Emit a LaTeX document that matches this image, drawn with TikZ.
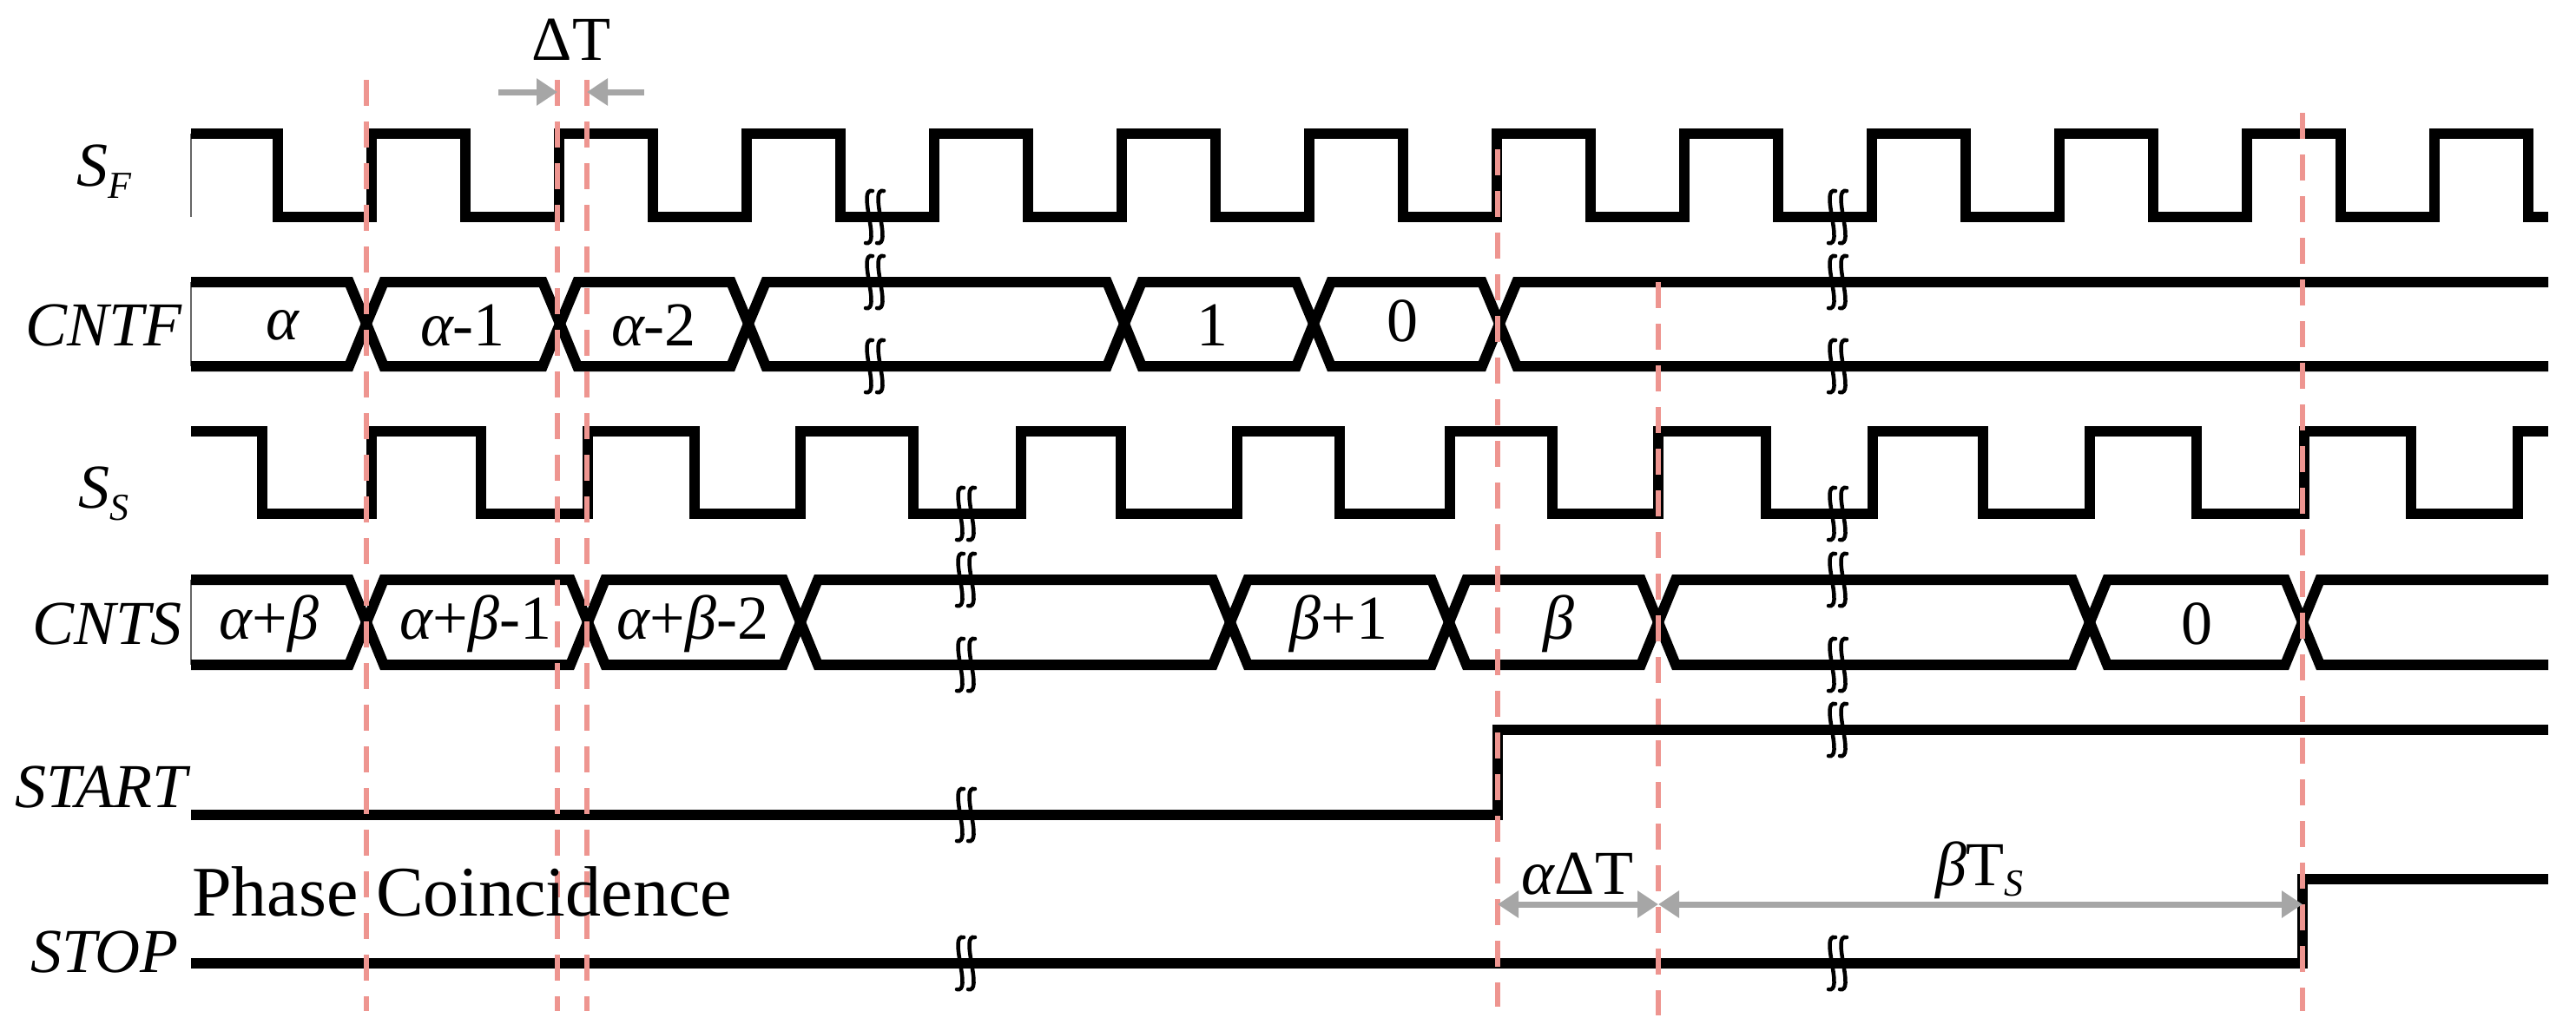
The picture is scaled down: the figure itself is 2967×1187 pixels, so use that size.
\documentclass[tikz,border=0pt]{standalone}
\usepackage{fontspec}
\setmainfont{Liberation Serif}
\usetikzlibrary{arrows.meta}
\definecolor{dashred}{HTML}{EE9590}
\definecolor{arrgray}{HTML}{A6A6A6}
\newcommand{\bigf}{\fontsize{72}{80}\selectfont}
\newcommand{\subf}{\fontsize{44}{48}\selectfont}
\begin{document}
\begin{tikzpicture}[x=1pt,y=-1pt,
  wave/.style={line width=12pt,line join=miter},
  thinedge/.style={line width=1.5pt,black!60},
  guide/.style={dashred,line width=6pt,dash pattern=on 30pt off 18pt},
  meas/.style={arrgray,line width=7pt,-{Triangle[length=24pt,width=30pt]}},
  dmeas/.style={arrgray,line width=7pt,{Triangle[length=24pt,width=30pt]}-{Triangle[length=24pt,width=30pt]}},
  lbl/.style={font=\bigf\itshape,inner sep=0pt},
  val/.style={font=\bigf,inner sep=0pt},
  brk/.pic={\draw[line width=4.5pt,line cap=round] (1,-30) .. controls (-8,-32) and (-6,-18) .. (-3,0) .. controls (0,18) and (2,32) .. (-7,30);
            \draw[line width=4.5pt,line cap=round] (14,-30) .. controls (5,-32) and (7,-18) .. (10,0) .. controls (13,18) and (15,32) .. (6,30);}]
\useasboundingbox (0,0) rectangle (2967,1187);
% ---- S_F
\draw[thinedge] (220,154) -- (220,250);
\draw[wave] (220,154) \foreach \k in {0,...,11}{ -- ({320+216*\k},154) -- ({320+216*\k},250) -- ({428+216*\k},250) -- ({428+216*\k},154)} -- (2912,154) -- (2912,250) -- (2935,250);
% ---- CNTF bus
\draw[thinedge] (220,325) -- (220,422);
\draw[wave] (220,325) -- (402,325) -- (422,373) -- (402,422) -- (220,422);
\foreach \a/\b in {422/645,645/862,862/1295,1295/1513,1513/1727}
  \draw[wave] (\a,373) -- ({\a+20},325) -- ({\b-20},325) -- (\b,373) -- ({\b-20},422) -- ({\a+20},422) -- cycle;
\draw[wave] (2935,325) -- (1747,325) -- (1727,373) -- (1747,422) -- (2935,422);
% ---- S_S
\draw[wave] (220,497) -- (302,497) -- (302,592) -- (428,592) -- (428,497) -- (554,497)--(554,592)--(677,592)--(677,497)--(800,497)--(800,592)--(922,592)--(922,497)--(1052,497)--(1052,592)--(1176,592)--(1176,497)--(1291,497)--(1291,592)--(1425,592)--(1425,497)--(1543,497)--(1543,592)--(1670,592)--(1670,497)--(1788,497)--(1788,592)--(1910,592)--(1910,497)--(2034,497)--(2034,592)--(2157,592)--(2157,497)--(2284,497)--(2284,592)--(2407,592)--(2407,497)--(2530,497)--(2530,592)--(2654,592)--(2654,497)--(2777,497)--(2777,592)--(2900,592)--(2900,497)--(2935,497);
% ---- CNTS bus
\draw[thinedge] (220,668) -- (220,766);
\draw[wave] (220,668) -- (402,668) -- (422,717) -- (402,766) -- (220,766);
\foreach \a/\b in {422/677,677/922,922/1417,1417/1669,1669/1910,1910/2407,2407/2652}
  \draw[wave] (\a,717) -- ({\a+20},668) -- ({\b-20},668) -- (\b,717) -- ({\b-20},766) -- ({\a+20},766) -- cycle;
\draw[wave] (2935,668) -- (2672,668) -- (2652,717) -- (2672,766) -- (2935,766);
% ---- START / STOP
\draw[wave] (220,939) -- (1725,939) -- (1725,841) -- (2935,841);
\draw[wave] (220,1110) -- (2652,1110) -- (2652,1013) -- (2935,1013);
% ---- break marks
\foreach \y in {250,325,422} \pic at (1004,\y) {brk};
\foreach \y in {592,668,766,939,1110} \pic at (1109,\y) {brk};
\foreach \y in {250,325,422,592,668,766,841,1110} \pic at (2113,\y) {brk};
% ---- guides
\coordinate (g1t) at (422,92);  \coordinate (g1b) at (422,1165);
\coordinate (g2t) at (642,92);  \coordinate (g2b) at (642,1165);
\coordinate (g3t) at (676,92);  \coordinate (g3b) at (676,1165);
\coordinate (g4t) at (1725,172);\coordinate (g4b) at (1725,1160);
\coordinate (g5t) at (1910,325);\coordinate (g5b) at (1910,1170);
\coordinate (g6t) at (2652,130);\coordinate (g6b) at (2652,1165);
\foreach \g in {1,...,6} \draw[guide] (g\g t) -- (g\g b);
% ---- measurements
\coordinate (dtl) at (574,106); \coordinate (dtr) at (742,106);
\draw[meas] (dtl) -- (642,106);
\draw[meas] (dtr) -- (676,106);
\draw[dmeas] (1725,1042) -- (1910,1042);
\draw[dmeas] (1910,1042) -- (2652,1042);
\node[val] (dT) at (658,46) {ΔT};
\node[val,anchor=base] (adT) at (1817,1030) {\itshape α\upshape ΔT};
\node[val,anchor=base] (bTs) at (2280,1020) {\itshape β\upshape T\raisebox{-12pt}{\subf\itshape S}};
% ---- row labels
\node[lbl,anchor=base west] (lsf) at (88,214) {S\raisebox{-14pt}{\subf F}};
\node[lbl,anchor=east] (lcntf) at (210,375) {CNTF};
\node[lbl,anchor=base west] (lss) at (90,585) {S\raisebox{-14pt}{\subf S}};
\node[lbl,anchor=east] (lcnts) at (210,719) {CNTS};
\node[lbl,anchor=east] (lstart) at (216,907) {START};
\node[lbl,anchor=east] (lstop) at (206,1097) {STOP};
\node[font=\fontsize{82}{90}\selectfont,inner sep=0pt,anchor=base west] (phase) at (221,1055) {Phase Coincidence};
% ---- bus values
\node[val] (v1) at (325,375) {\itshape α};
\node[val] (v2) at (533,375) {\itshape α\upshape -1};
\node[val] (v3) at (753,375) {\itshape α\upshape -2};
\node[val] (v4) at (1396,375) {1};
\node[val] (v5) at (1615,370) {0};
\node[val] (w1) at (310,719) {\itshape α\upshape +\itshape β};
\node[val] (w2) at (548,719) {\itshape α\upshape +\itshape β\upshape -1};
\node[val] (w3) at (798,719) {\itshape α\upshape +\itshape β\upshape -2};
\node[val] (w4) at (1542,719) {\itshape β\upshape +1};
\node[val] (w5) at (1795,719) {\itshape β};
\node[val] (w6) at (2530,719) {0};
\end{tikzpicture}
\end{document}
